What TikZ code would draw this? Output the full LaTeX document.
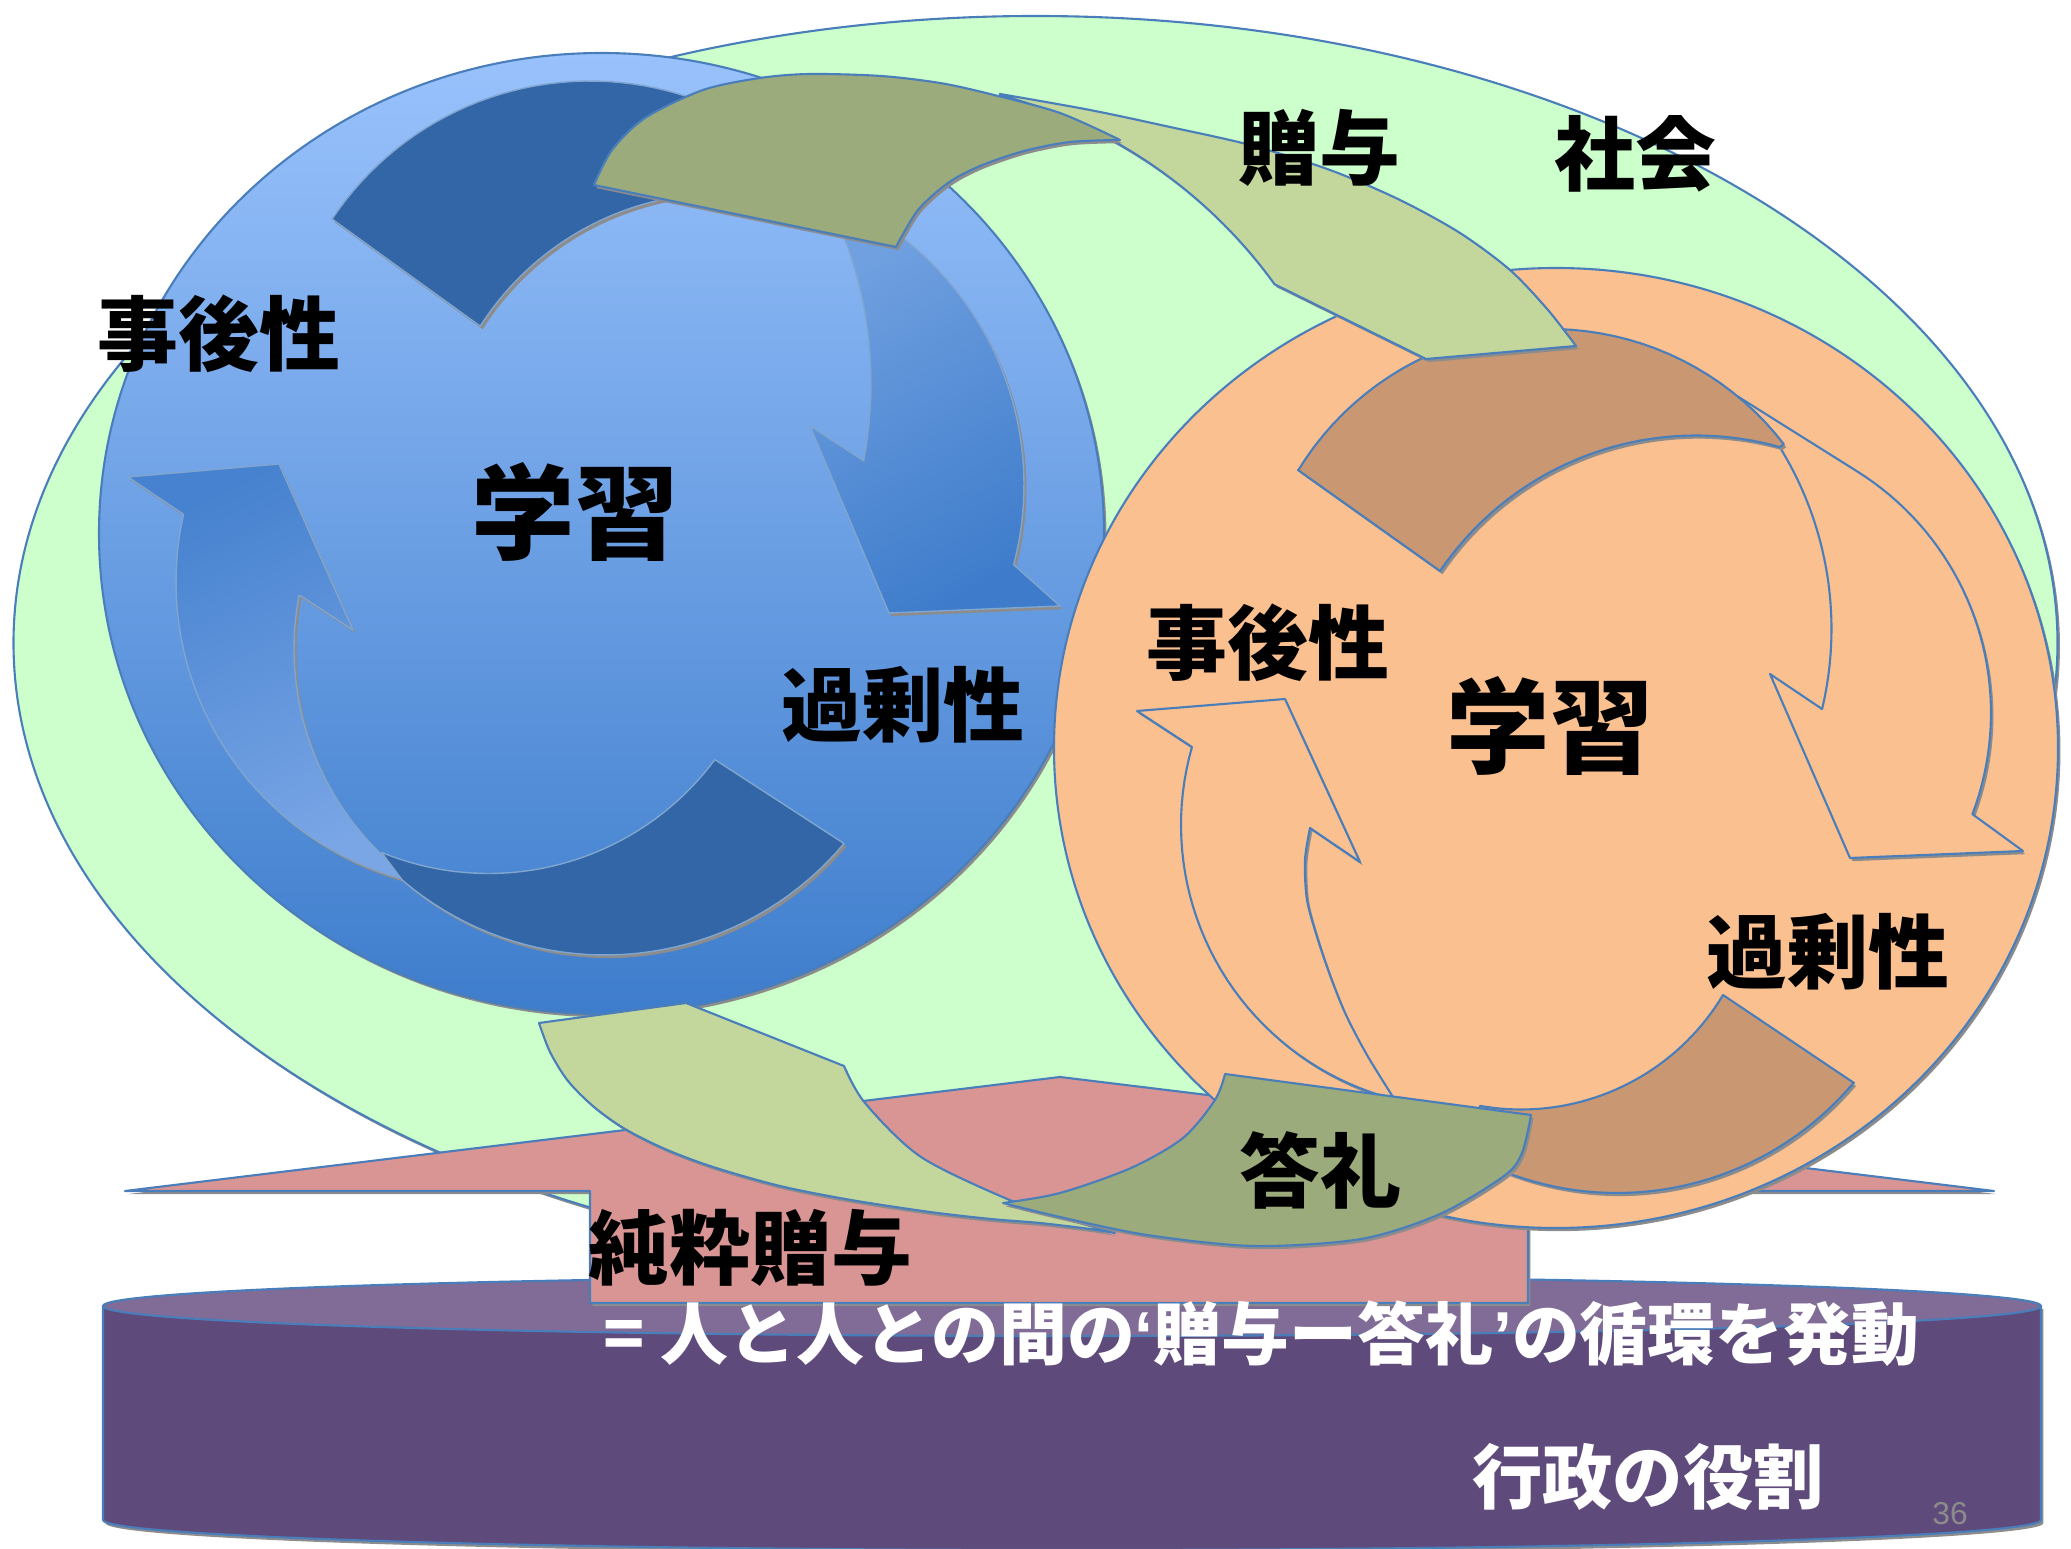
\documentclass[tikz,border=0pt]{standalone}
\usepackage{fontspec}
\newfontfamily\jp{Noto Sans CJK JP}
\newfontfamily\lat{Liberation Sans}
\definecolor{bdr}{RGB}{74,126,187}
\definecolor{mint}{RGB}{204,255,204}
\definecolor{bluetop}{RGB}{153,194,252}
\definecolor{bluebot}{RGB}{62,125,204}
\definecolor{bluedark}{RGB}{51,102,166}
\definecolor{peach}{RGB}{250,192,143}
\definecolor{tanarrow}{RGB}{201,152,114}
\definecolor{olivegift}{RGB}{155,171,123}
\definecolor{sagegift}{RGB}{195,214,155}
\definecolor{rose}{RGB}{217,149,148}
\definecolor{plumside}{RGB}{95,75,123}
\definecolor{plumtop}{RGB}{128,108,150}
\begin{document}
\begin{tikzpicture}[x=0.01cm,y=-0.01cm,
  edge/.style={draw=bdr,line width=0.6pt,line join=round},
  shd/.style={preaction={fill=black!45,transform canvas={shift={(0.7pt,-0.9pt)}}}},
  softedge/.style={draw=bdr!70!white,line width=0.4pt,line join=round},
  lbl/.style={inner sep=0pt,font=\jp\bfseries\fontsize{23pt}{23pt}\selectfont},
  big/.style={inner sep=0pt,font=\jp\bfseries\fontsize{29.4pt}{29.4pt}\selectfont},
  wht/.style={inner sep=0pt,text=white,font=\jp\bfseries\fontsize{19.3pt}{19.3pt}\selectfont},
  whtbig/.style={inner sep=0pt,text=white,font=\jp\bfseries\fontsize{20pt}{20pt}\selectfont},
  num/.style={inner sep=0pt,text=black!45,font=\lat\fontsize{9pt}{9pt}\selectfont}]
\useasboundingbox (0,0) rectangle (2071,1549);

% base cylinder
\path[fill=plumside,edge,shd] (103,1306) -- (103,1520)
  arc[start angle=180,end angle=0,x radius=969,y radius=30] -- (2041,1306) -- cycle;
\path[fill=plumtop,edge] (1072,1306) ellipse [x radius=969,y radius=30];

% society ellipse
\path[fill=mint,edge,shd] (1035.5,643) ellipse [x radius=1022,y radius=627];

% upward block arrow
\path[fill=rose,edge,shd] (125,1191) -- (1060,1077) -- (1994,1191) -- (1528,1191)
  -- (1528,1303) -- (590,1303) -- (590,1191) -- cycle;

% left learning cycle
\shade[top color=bluetop,bottom color=bluebot,edge,shd] (601.5,533.5) ellipse [x radius=502.5,y radius=480.5];
\shade[top color={rgb,255:red,70;green,130;blue,207},bottom color={rgb,255:red,122;green,166;blue,230},shading angle=25,softedge,shd]
  (128,477) -- (279,464) -- (353,630) -- (301,596)
  -- plot[domain=190.8:128,samples=40,variable=\t] ({579+285*cos(\t)},{649+285*sin(\t)})
  -- (412,880)
  -- plot[domain=103.6:192.7,samples=40,variable=\t] ({484+308*cos(\t)},{582+308*sin(\t)}) -- cycle;
\path[fill=bluedark,softedge,shd]
  plot[domain=112.3:36.6,samples=40,variable=\t] ({488.5+282*cos(\t)},{591.5+282*sin(\t)})
  -- (844,843.5)
  -- plot[domain=40:130.5,samples=40,variable=\t] ({605+312*cos(\t)},{643+312*sin(\t)}) -- cycle;
\shade[top color={rgb,255:red,112;green,160;blue,224},bottom color={rgb,255:red,62;green,124;blue,203},shading angle=30,softedge,shd]
  plot[domain=-60:14.8,samples=40,variable=\t] ({712+312*cos(\t)},{485+312*sin(\t)})
  -- (1060,606) -- (889,613) -- (810,426) -- (864,461)
  -- plot[domain=10.95:-24,samples=40,variable=\t] ({461+410*cos(\t)},{383+410*sin(\t)}) -- cycle;
\path[fill=bluedark,softedge,shd] (480,326) -- (332,219)
  -- plot[domain=213.7:300,samples=40,variable=\t] ({590+310*cos(\t)},{391+310*sin(\t)})
  -- plot[domain=275:212.5,samples=40,variable=\t] ({723+288*cos(\t)},{481+288*sin(\t)}) -- cycle;

% right learning cycle
\path[fill=peach,edge,shd] (1556,748) ellipse [x radius=502,y radius=480];
\path[fill=peach,edge,shd] (1737,396)
  -- plot[domain=-58:20.8,samples=40,variable=\t] ({1706+285*cos(\t)},{713+285*sin(\t)})
  -- (2023,851) -- (1850,858) -- (1770,674) -- (1822,709)
  -- plot[domain=13.4:-33,samples=40,variable=\t] ({1486+345.5*cos(\t)},{629+345.5*sin(\t)}) -- cycle;
\path[fill=peach,edge,shd] (1137,711) -- (1285,699) -- (1360,862) -- (1310,828)
  -- plot[smooth] coordinates {(1310,828) (1305,860) (1307,900) (1318,940) (1331,978) (1346,1015) (1367,1055) (1393,1097)}
  -- plot[domain=104.6:196,samples=40,variable=\t] ({1464+283*cos(\t)},{825+283*sin(\t)}) -- cycle;
\path[fill=tanarrow,edge,shd] (1440,571) -- (1298,470)
  -- plot[domain=211.4:322.4,samples=40,variable=\t] ({1550+295*cos(\t)},{624+295*sin(\t)})
  -- plot[domain=285.7:214.2,samples=40,variable=\t] ({1696+309.5*cos(\t)},{745+309.5*sin(\t)}) -- cycle;
\path[fill=tanarrow,edge,shd] (1723,995) -- (1854,1083)
  -- plot[domain=40:120,samples=40,variable=\t] ({1617+309*cos(\t)},{884+309*sin(\t)})
  -- plot[domain=100:30.9,samples=40,variable=\t] ({1521+235.5*cos(\t)},{874+235.5*sin(\t)}) -- cycle;

% gift arrow from left cycle to right cycle
\path[fill=sagegift,edge,shd] (1000,94)
  -- plot[smooth] coordinates {(1000,94) (1090,110) (1170,127) (1250,145) (1330,170) (1400,200) (1460,233) (1510,270) (1548,310) (1576,346)}
  -- (1426,359) -- (1274,284)
  -- plot[domain=-35.9:-75,samples=40,variable=\t] ({871+498*cos(\t)},{576+498*sin(\t)}) -- cycle;
\path[fill=olivegift,edge,shd] (896,247) -- (594,185)
  -- plot[smooth] coordinates {(594,185) (612,150) (645,118) (703,90) (760,78) (810,74) (881,76) (940,83) (990,94) (1060,113) (1120,140)}
  -- plot[smooth] coordinates {(1120,140) (1070,142) (1024,151) (980,166) (948,183) (918,210) (896,247)} -- cycle;

% return gift arrow at the bottom
\path[fill=sagegift,edge,shd] (539,1023) -- (686,1003) -- (844,1066)
  -- plot[smooth] coordinates {(844,1066) (865,1103) (921,1157) (1012,1201) (1070,1220) (1115,1233)}
  -- plot[smooth] coordinates {(1115,1233) (1090,1229) (1040,1223) (991,1219) (930,1212) (851,1200) (780,1186) (713,1167) (665,1149) (625,1129) (594,1107) (568,1081) (550,1052) (539,1023)} -- cycle;
\path[fill=olivegift,edge,shd] (1225,1074) -- (1531,1115)
  -- plot[smooth] coordinates {(1531,1115) (1522,1153) (1504,1176) (1440,1214) (1361,1239) (1254,1246) (1147,1235) (1060,1217) (1003,1203)}
  -- plot[smooth] coordinates {(1003,1203) (1060,1193) (1131,1168) (1183,1138) (1215,1100) (1225,1074)} -- cycle;

% labels
\node[lbl] (jigoL) at (219,334) {事後性};
\node[big] (gakuL) at (575,512) {学習};
\node[lbl] (kajoL) at (903,705) {過剰性};
\node[lbl] (jigoR) at (1268,643) {事後性};
\node[big] (gakuR) at (1550,726) {学習};
\node[lbl] (kajoR) at (1828,952) {過剰性};
\node[lbl] (zoyo) at (1319,148) {贈与};
\node[lbl] (shakai) at (1635,154) {社会};
\node[lbl] (tourei) at (1320,1170) {答礼};
\node[lbl,anchor=west] (junsui) at (588,1248) {純粋贈与};
\node[wht,anchor=west] (kaiki) at (603,1334) {= 人と人との間の{\lat ‘}贈与ー答礼{\lat ’}の循環を発動};
\node[whtbig] (gyosei) at (1648,1477) {行政の役割};
\node[num] (page) at (1950,1514) {36};
\end{tikzpicture}
\end{document}
